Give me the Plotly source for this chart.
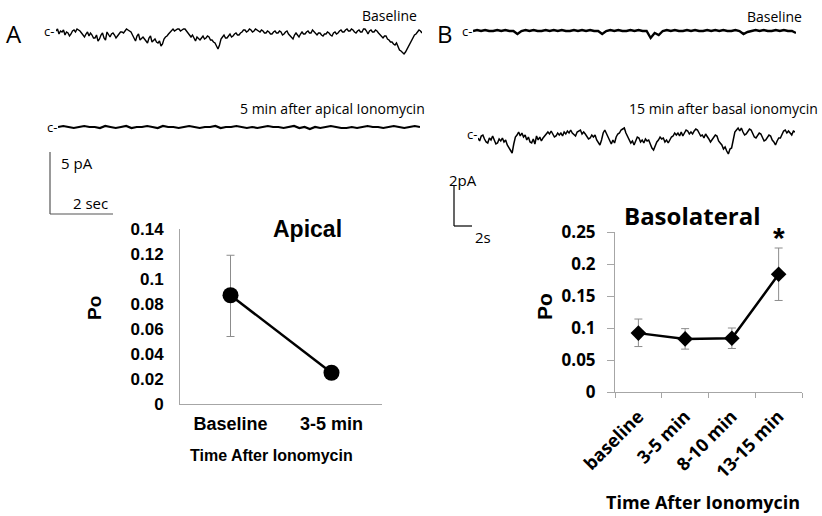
import plotly.graph_objects as go

W, H = 822, 516

# ---------------- data ----------------
apical_categories = ["Baseline", "3-5 min"]
apical_po = [0.087, 0.025]
apical_err_plus = [0.032, 0.0]
apical_err_minus = [0.033, 0.0]

baso_categories = ["baseline", "3-5 min", "8-10 min", "13-15 min"]
baso_po = [0.092, 0.083, 0.084, 0.184]
baso_err_plus = [0.022, 0.016, 0.016, 0.041]
baso_err_minus = [0.021, 0.016, 0.016, 0.041]

# single-channel current traces (downward deflection, ~pixel units)
apical_baseline_trace = [
    2, 0, 5, 2, 3, 1, 6, 3, 4, 7, 5, 2, 1, 3, 0, 1, 2, 4, 6, 8, 5, 3, 7, 4, 6, 9, 9, 6, 12, 10,
    6, 4, 9, 11, 3, 5, 8, 5, 4, 6,
    9, 7, 5, 3, 3, 4, 2, 0, 1, 2, 3, 6, 9, 12, 7, 5, 11, 9, 8, 10, 12, 14, 9, 7, 13, 11, 10, 13,
    14, 12, 17, 15, 10, 8, 7, 5, 3, 1, 0, 2,
    1, 0, 0, 2, 1, 0, 0, 2, 4, 6, 8, 6, 10, 12, 8, 10, 11, 9, 7, 10, 9, 7, 8, 11, 11, 13, 14, 17,
    20, 16, 10, 8, 6, 9, 9, 7, 5, 8, 7, 5,
    4, 6, 6, 4, 3, 1, 1, 3, 2, 0, 1, 3, 2, 0, 1, 2, 3, 1, 2, 4, 4, 2, 3, 5, 5, 3, 2, 4, 4, 2,
    3, 6, 5, 3, 2, 5, 7, 9, 10, 6,
    4, 6, 8, 5, 3, 5, 5, 3, 2, 4, 4, 1, 3, 5, 6, 4, 4, 6, 7, 5, 5, 3, 4, 6, 7, 4, 3, 5, 4, 2,
    1, 3, 3, 1, 0, 2, 2, 0, 1, 3,
    4, 2, 1, 3, 3, 0, 0, 2, 5, 2, 1, 3, 3, 1, 2, 4, 6, 8, 9, 7, 7, 10, 11, 13, 13, 15, 16, 14,
    18, 21, 22, 24, 25, 23, 20, 17, 14, 11, 8, 6,
    5, 3, 1, 2, 4,
]
apical_after_trace = [
    1, 0, 1, 2, 1, 0, 1, 1, 2, 0, 1, 2, 1, 0, 2, 1, 1, 0, 1, 2,
    0, 1, 1, 2, 1, 0, 1, 2, 1, 1, 0, 2, 1, 1, 0, 1, 2, 1, 2, 1,
    0, 1, 1, 2, 1, 0, 2, 1, 3, 1, 2, 1, 0, 1, 2, 2, 1, 2, 1, 0,
    1, 1, 2, 1, 0, 1, 2, 1, 0, 1,
]
basal_baseline_trace = [
    1, 0, 1, 0, 1, 1, 0, 1, 0, 1, 1, 4, 1, 0, 1, 0, 1, 1, 0, 1,
    0, 1, 0, 1, 1, 0, 1, 0, 1, 0, 1, 1, 4, 1, 0, 1, 0, 1, 1, 0,
    1, 0, 1, 1, 8, 3, 5, 1, 0, 1, 0, 1, 1, 0, 1, 0, 1, 1, 0, 1,
    0, 1, 0, 1, 1, 0, 1, 4, 2, 1, 0, 1, 0, 1, 1, 0, 1, 0, 1, 1,
    3,
]
basal_after_trace = [
    10, 13, 8, 7, 11, 14, 15, 10, 12, 8, 12, 16, 15, 11, 13, 10, 14, 12, 17, 20, 22, 25, 16, 9,
    7, 4, 8, 5, 9, 7, 12, 9, 14, 15, 11, 16, 8, 12, 9, 13, 10, 8, 7, 4, 6, 3, 6, 9, 8, 5, 7,
    5, 8, 4, 6, 3, 5, 2, 5, 7,
    8, 4, 3, 2, 6, 4, 6, 9, 11, 10, 7, 9, 7, 12, 15, 17, 12, 5, 2, 6, 10, 13, 16, 12, 15, 9, 6,
    5, 2, 1, 0, 5, 9, 12, 15, 13, 17, 13, 9, 10, 14, 12, 15, 11, 13, 12, 17, 20, 22, 18, 14,
    12, 9, 11, 10, 14, 12, 15, 11, 9,
    8, 5, 7, 5, 8, 4, 8, 5, 2, 3, 6, 4, 6, 3, 1, 2, 5, 8, 7, 10, 6, 8, 11, 14, 12, 9, 7, 8, 13,
    15, 17, 21, 19, 23, 26, 21, 20, 12, 4, 2, 0, 3, 0, 4, 7, 6, 3, 1, 2, 6, 9, 10, 7, 5, 6, 9,
    13, 12, 9, 7,
    8, 12, 14, 17, 13, 10, 10, 6, 3, 2, 5, 3, 5, 7, 3, 4,
]

# ---------------- geometry helpers ----------------
def fx(px):
    return px / W


def fy(py):
    return 1 - py / H


BLACK = "black"
AXIS_GREY = "#a6a6a6"
ERR_GREY = "#8c8c8c"
ARIAL = "Liberation Sans, Arial, sans-serif"
CALIBRI = "Open Sans, Carlito, Calibri, sans-serif"

fig = go.Figure()

# ---------------- Apical chart ----------------
fig.add_trace(go.Scatter(
    x=apical_categories, y=apical_po, mode="lines+markers",
    line=dict(color=BLACK, width=2.5),
    marker=dict(color=BLACK, size=16, symbol="circle"),
    error_y=dict(type="data", symmetric=False, array=apical_err_plus,
                 arrayminus=apical_err_minus, color=ERR_GREY, thickness=1, width=4),
    xaxis="x", yaxis="y", showlegend=False, hoverinfo="skip",
))

# ---------------- Basolateral chart ----------------
fig.add_trace(go.Scatter(
    x=baso_categories, y=baso_po, mode="lines+markers",
    line=dict(color=BLACK, width=2.5),
    marker=dict(color=BLACK, size=12, symbol="diamond"),
    error_y=dict(type="data", symmetric=False, array=baso_err_plus,
                 arrayminus=baso_err_minus, color=ERR_GREY, thickness=1, width=4),
    xaxis="x2", yaxis="y2", showlegend=False, hoverinfo="skip",
))

# ---------------- current traces ----------------
trace_panels = [
    # values, left px, right px, closed-level px, axis number, line width
    (apical_baseline_trace, 56, 422, 29, 3, 1.4),
    (apical_after_trace, 58, 420, 126, 4, 2.2),
    (basal_baseline_trace, 473, 796, 30, 5, 2.4),
    (basal_after_trace, 478, 795, 128, 6, 1.5),
]
layout_axes = {}
for vals, x0, x1, lvl, n, lw in trace_panels:
    fig.add_trace(go.Scatter(
        x=list(range(len(vals))), y=[-v for v in vals], mode="lines",
        line=dict(color=BLACK, width=lw), xaxis=f"x{n}", yaxis=f"y{n}",
        showlegend=False, hoverinfo="skip",
    ))
    layout_axes[f"xaxis{n}"] = dict(domain=[fx(x0), fx(x1)], range=[0, len(vals) - 1],
                                   visible=False, anchor=f"y{n}", automargin=False)
    layout_axes[f"yaxis{n}"] = dict(domain=[fy(lvl + 30), fy(lvl - 10)], range=[-30, 10],
                                   visible=False, anchor=f"x{n}", automargin=False)

fig.update_layout(
    width=W, height=H, margin=dict(l=0, r=0, t=0, b=0, autoexpand=False),
    paper_bgcolor="white", plot_bgcolor="white",
    xaxis=dict(domain=[fx(180), fx(382)], type="category", range=[-0.5, 1.5],
               showline=True, linecolor=AXIS_GREY, linewidth=1, ticks="",
               showgrid=False, zeroline=False, ticklabelstandoff=3, automargin=False,
               tickfont=dict(family=ARIAL, size=18, color=BLACK, weight="bold"),
               anchor="y"),
    yaxis=dict(domain=[fy(404), fy(229)], range=[0, 0.14], dtick=0.02,
               showline=True, linecolor=AXIS_GREY, linewidth=1, ticks="",
               showgrid=False, zeroline=False, ticklabelstandoff=12, automargin=False,
               tickfont=dict(family=ARIAL, size=17, color=BLACK, weight="bold"),
               anchor="x"),
    xaxis2=dict(domain=[fx(615), fx(802)], type="category", range=[-0.5, 3.5],
                showline=True, linecolor=AXIS_GREY, linewidth=1,
                ticks="outside", ticklen=5, tickcolor=AXIS_GREY, tickson="boundaries",
                tickangle=-45, showgrid=False, zeroline=False, automargin=False,
                ticklabelstandoff=6,
                tickfont=dict(family=CALIBRI, size=18, color=BLACK, weight="bold"),
                anchor="y2"),
    yaxis2=dict(domain=[fy(392), fy(232)], range=[0, 0.25], dtick=0.05,
                showline=True, linecolor=AXIS_GREY, linewidth=1,
                ticks="outside", ticklen=7, tickcolor=AXIS_GREY,
                showgrid=False, zeroline=False, ticklabelstandoff=8, automargin=False,
                tickfont=dict(family=CALIBRI, size=17, color=BLACK, weight="bold"),
                anchor="x2"),
    **layout_axes,
)


def note(text, x, y, size, family=CALIBRI, bold=False, xanchor="center", angle=0):
    fig.add_annotation(
        text=text, x=fx(x), y=fy(y), xref="paper", yref="paper",
        xanchor=xanchor, yanchor="middle", showarrow=False, textangle=angle,
        font=dict(family=family, size=size, color=BLACK,
                  weight="bold" if bold else "normal"),
    )


# panel letters and trace labels
note("A", 14, 33, 24)
note("B", 445, 33, 24)
note("c-", 56, 31, 13, xanchor="right")
note("c-", 59, 127, 13, xanchor="right")
note("c-", 474, 31, 13, xanchor="right")
note("c-", 479, 134, 13, xanchor="right")
note("Baseline", 419, 15, 14, xanchor="right")
note("Baseline", 804, 16, 14, xanchor="right")
note("5 min after apical Ionomycin", 427, 108, 14, xanchor="right")
note("15 min after basal ionomycin", 820, 108, 14, xanchor="right")

# scale bars
note("5 pA", 59, 163, 15, xanchor="left")
note("2 sec", 71, 203, 15, xanchor="left")
note("2pA", 463, 180, 15)
note("2s", 483, 237, 15)
bar_line = dict(color="#555555", width=1.2)
fig.add_shape(type="line", xref="paper", yref="paper", x0=fx(50), x1=fx(50),
              y0=fy(152), y1=fy(214), line=bar_line)
fig.add_shape(type="line", xref="paper", yref="paper", x0=fx(50), x1=fx(113),
              y0=fy(214), y1=fy(214), line=bar_line)
fig.add_shape(type="line", xref="paper", yref="paper", x0=fx(454), x1=fx(454),
              y0=fy(186), y1=fy(226), line=dict(color=BLACK, width=1.2))
fig.add_shape(type="line", xref="paper", yref="paper", x0=fx(454), x1=fx(472),
              y0=fy(226), y1=fy(226), line=dict(color=BLACK, width=1.2))

# chart titles / axis titles
note("Apical", 307, 229, 23, family=ARIAL, bold=True)
note("Po", 94, 308, 19, family=ARIAL, bold=True, angle=-90)
note("Time After Ionomycin", 271, 455, 16, family=ARIAL, bold=True)
note("Basolateral", 692, 215, 24, bold=True)
note("*", 779, 238, 30, family=ARIAL, bold=True)
note("Po", 544, 307, 21, family=ARIAL, bold=True, angle=-90)
note("Time After Ionomycin", 703, 502, 18, bold=True)

fig.write_html("out.html")
